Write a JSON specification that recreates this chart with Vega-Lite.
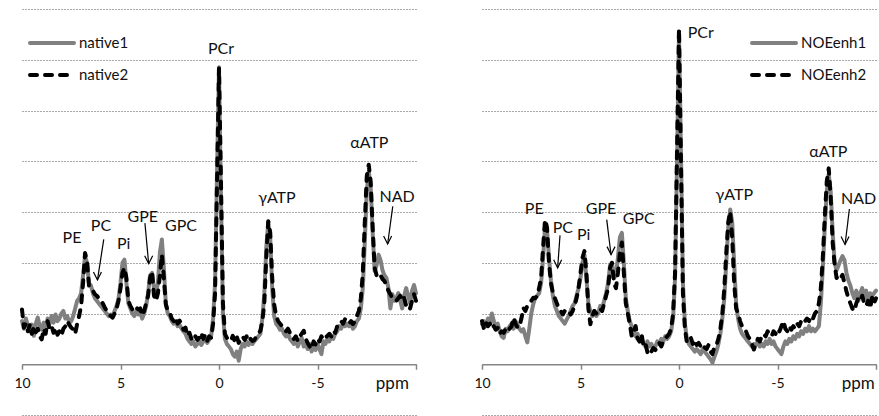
{
  "$schema": "https://vega.github.io/schema/vega-lite/v6.json",
  "autosize": {"type": "pad"},
  "padding": {"left": 13, "top": 9, "right": 0, "bottom": 1},
  "spacing": 66,
  "bounds": "flush",
  "config": {"view": {"stroke": null}, "font": "Lato"},
  "resolve": {"scale": {"color": "independent", "strokeDash": "independent"}},
  "datasets": {
    "spec": [
      {"p":10.0,"native1":8.5,"native2":10.8,"NOEenh1":7.9,"NOEenh2":8.5},
      {"p":9.9,"native1":7.0,"native2":7.2,"NOEenh1":8.5,"NOEenh2":7.0},
      {"p":9.8,"native1":9.0,"native2":8.0,"NOEenh1":7.5,"NOEenh2":8.2},
      {"p":9.7,"native1":7.5,"native2":6.5,"NOEenh1":9.0,"NOEenh2":7.5},
      {"p":9.6,"native1":6.5,"native2":7.8,"NOEenh1":8.0,"NOEenh2":8.0},
      {"p":9.5,"native1":7.8,"native2":6.0,"NOEenh1":10.0,"NOEenh2":7.0},
      {"p":9.4,"native1":5.6,"native2":7.5,"NOEenh1":8.5,"NOEenh2":7.5},
      {"p":9.3,"native1":8.0,"native2":6.3,"NOEenh1":7.0,"NOEenh2":6.8},
      {"p":9.2,"native1":9.2,"native2":7.0,"NOEenh1":8.0,"NOEenh2":7.2},
      {"p":9.1,"native1":7.5,"native2":5.5,"NOEenh1":6.5,"NOEenh2":6.0},
      {"p":9.0,"native1":6.8,"native2":4.9,"NOEenh1":5.5,"NOEenh2":6.5},
      {"p":8.9,"native1":8.2,"native2":7.0,"NOEenh1":5.2,"NOEenh2":6.2},
      {"p":8.8,"native1":7.0,"native2":6.0,"NOEenh1":7.0,"NOEenh2":7.0},
      {"p":8.7,"native1":9.0,"native2":8.5,"NOEenh1":6.5,"NOEenh2":6.5},
      {"p":8.6,"native1":8.0,"native2":7.0,"NOEenh1":7.5,"NOEenh2":7.0},
      {"p":8.5,"native1":9.5,"native2":7.6,"NOEenh1":8.0,"NOEenh2":7.5},
      {"p":8.4,"native1":8.2,"native2":6.2,"NOEenh1":7.0,"NOEenh2":9.2},
      {"p":8.3,"native1":9.8,"native2":7.2,"NOEenh1":8.5,"NOEenh2":8.0},
      {"p":8.2,"native1":8.5,"native2":5.8,"NOEenh1":7.8,"NOEenh2":7.2},
      {"p":8.1,"native1":9.0,"native2":6.5,"NOEenh1":7.0,"NOEenh2":7.5},
      {"p":8.0,"native1":10.0,"native2":5.6,"NOEenh1":6.5,"NOEenh2":9.0},
      {"p":7.9,"native1":10.5,"native2":7.0,"NOEenh1":6.9,"NOEenh2":11.1},
      {"p":7.8,"native1":9.0,"native2":7.5,"NOEenh1":5.5,"NOEenh2":10.5},
      {"p":7.7,"native1":9.5,"native2":8.5,"NOEenh1":4.3,"NOEenh2":11.5},
      {"p":7.6,"native1":8.2,"native2":7.8,"NOEenh1":7.0,"NOEenh2":12.0},
      {"p":7.5,"native1":8.5,"native2":7.2,"NOEenh1":10.0,"NOEenh2":12.5},
      {"p":7.4,"native1":9.5,"native2":6.9,"NOEenh1":11.8,"NOEenh2":13.1},
      {"p":7.3,"native1":11.0,"native2":6.0,"NOEenh1":13.1,"NOEenh2":13.0},
      {"p":7.2,"native1":12.5,"native2":8.0,"NOEenh1":13.5,"NOEenh2":13.5},
      {"p":7.1,"native1":13.0,"native2":9.5,"NOEenh1":14.0,"NOEenh2":15.0},
      {"p":7.0,"native1":14.0,"native2":11.5,"NOEenh1":16.0,"NOEenh2":17.0},
      {"p":6.9,"native1":17.5,"native2":16.0,"NOEenh1":21.0,"NOEenh2":23.0},
      {"p":6.8,"native1":21.3,"native2":21.9,"NOEenh1":27.0,"NOEenh2":28.5},
      {"p":6.7,"native1":20.0,"native2":20.5,"NOEenh1":26.5,"NOEenh2":27.0},
      {"p":6.6,"native1":16.0,"native2":15.5,"NOEenh1":21.0,"NOEenh2":20.0},
      {"p":6.5,"native1":15.5,"native2":14.7,"NOEenh1":16.5,"NOEenh2":16.0},
      {"p":6.4,"native1":14.0,"native2":14.5,"NOEenh1":13.5,"NOEenh2":14.0},
      {"p":6.3,"native1":13.0,"native2":13.8,"NOEenh1":11.5,"NOEenh2":13.0},
      {"p":6.2,"native1":12.5,"native2":13.5,"NOEenh1":10.5,"NOEenh2":12.0},
      {"p":6.1,"native1":12.0,"native2":13.0,"NOEenh1":9.5,"NOEenh2":11.0},
      {"p":6.0,"native1":11.5,"native2":12.8,"NOEenh1":9.0,"NOEenh2":10.5},
      {"p":5.9,"native1":11.0,"native2":12.0,"NOEenh1":8.5,"NOEenh2":9.8},
      {"p":5.8,"native1":10.5,"native2":11.2,"NOEenh1":8.0,"NOEenh2":10.5},
      {"p":5.7,"native1":10.0,"native2":10.5,"NOEenh1":8.8,"NOEenh2":10.2},
      {"p":5.6,"native1":9.5,"native2":10.2,"NOEenh1":9.5,"NOEenh2":10.5},
      {"p":5.5,"native1":9.8,"native2":9.5,"NOEenh1":10.5,"NOEenh2":9.8},
      {"p":5.4,"native1":9.5,"native2":9.2,"NOEenh1":11.5,"NOEenh2":10.5},
      {"p":5.3,"native1":10.5,"native2":10.0,"NOEenh1":12.0,"NOEenh2":11.5},
      {"p":5.2,"native1":11.5,"native2":11.0,"NOEenh1":13.5,"NOEenh2":13.0},
      {"p":5.1,"native1":13.0,"native2":12.5,"NOEenh1":15.0,"NOEenh2":15.0},
      {"p":5.0,"native1":16.0,"native2":15.0,"NOEenh1":17.0,"NOEenh2":18.0},
      {"p":4.9,"native1":20.0,"native2":18.0,"NOEenh1":20.0,"NOEenh2":21.0},
      {"p":4.8,"native1":20.6,"native2":19.0,"NOEenh1":21.5,"NOEenh2":22.3},
      {"p":4.7,"native1":16.0,"native2":17.0,"NOEenh1":17.0,"NOEenh2":18.0},
      {"p":4.6,"native1":12.0,"native2":12.5,"NOEenh1":12.0,"NOEenh2":11.0},
      {"p":4.5,"native1":11.0,"native2":11.5,"NOEenh1":10.5,"NOEenh2":7.9},
      {"p":4.4,"native1":10.0,"native2":10.8,"NOEenh1":9.5,"NOEenh2":9.5},
      {"p":4.3,"native1":9.5,"native2":10.5,"NOEenh1":10.5,"NOEenh2":10.5},
      {"p":4.2,"native1":10.5,"native2":11.2,"NOEenh1":9.5,"NOEenh2":10.0},
      {"p":4.1,"native1":9.8,"native2":10.8,"NOEenh1":10.0,"NOEenh2":10.8},
      {"p":4.0,"native1":10.2,"native2":11.0,"NOEenh1":11.5,"NOEenh2":11.0},
      {"p":3.9,"native1":9.0,"native2":9.6,"NOEenh1":11.0,"NOEenh2":10.5},
      {"p":3.8,"native1":10.0,"native2":10.5,"NOEenh1":12.5,"NOEenh2":12.0},
      {"p":3.7,"native1":11.5,"native2":12.0,"NOEenh1":14.0,"NOEenh2":13.5},
      {"p":3.6,"native1":14.0,"native2":13.5,"NOEenh1":16.0,"NOEenh2":15.0},
      {"p":3.5,"native1":17.5,"native2":17.0,"NOEenh1":19.5,"NOEenh2":19.0},
      {"p":3.4,"native1":18.0,"native2":18.3,"NOEenh1":20.0,"NOEenh2":20.0},
      {"p":3.3,"native1":15.0,"native2":13.5,"NOEenh1":17.0,"NOEenh2":16.0},
      {"p":3.2,"native1":14.0,"native2":12.5,"NOEenh1":17.5,"NOEenh2":15.0},
      {"p":3.1,"native1":16.0,"native2":14.0,"NOEenh1":21.0,"NOEenh2":18.0},
      {"p":3.0,"native1":22.0,"native2":17.5,"NOEenh1":25.0,"NOEenh2":22.0},
      {"p":2.9,"native1":24.6,"native2":21.6,"NOEenh1":25.9,"NOEenh2":24.0},
      {"p":2.8,"native1":19.0,"native2":17.0,"NOEenh1":20.0,"NOEenh2":18.0},
      {"p":2.7,"native1":12.0,"native2":11.8,"NOEenh1":13.0,"NOEenh2":12.0},
      {"p":2.6,"native1":10.0,"native2":10.5,"NOEenh1":10.5,"NOEenh2":10.0},
      {"p":2.5,"native1":9.5,"native2":10.2,"NOEenh1":8.5,"NOEenh2":8.0},
      {"p":2.4,"native1":8.5,"native2":9.0,"NOEenh1":7.5,"NOEenh2":5.5},
      {"p":2.3,"native1":8.0,"native2":8.5,"NOEenh1":6.5,"NOEenh2":6.5},
      {"p":2.2,"native1":8.5,"native2":9.2,"NOEenh1":5.5,"NOEenh2":7.5},
      {"p":2.1,"native1":7.5,"native2":8.0,"NOEenh1":6.0,"NOEenh2":5.0},
      {"p":2.0,"native1":7.8,"native2":8.6,"NOEenh1":4.5,"NOEenh2":4.5},
      {"p":1.9,"native1":7.0,"native2":7.9,"NOEenh1":5.0,"NOEenh2":6.0},
      {"p":1.8,"native1":6.5,"native2":6.8,"NOEenh1":4.0,"NOEenh2":3.5},
      {"p":1.7,"native1":6.0,"native2":7.2,"NOEenh1":3.5,"NOEenh2":4.0},
      {"p":1.6,"native1":5.0,"native2":5.6,"NOEenh1":4.5,"NOEenh2":2.3},
      {"p":1.5,"native1":4.5,"native2":6.2,"NOEenh1":3.5,"NOEenh2":3.0},
      {"p":1.4,"native1":4.0,"native2":5.0,"NOEenh1":4.0,"NOEenh2":2.5},
      {"p":1.3,"native1":4.5,"native2":4.6,"NOEenh1":3.0,"NOEenh2":3.2},
      {"p":1.2,"native1":3.5,"native2":5.5,"NOEenh1":3.5,"NOEenh2":2.8},
      {"p":1.1,"native1":4.0,"native2":4.8,"NOEenh1":4.5,"NOEenh2":3.5},
      {"p":1.0,"native1":4.5,"native2":5.2,"NOEenh1":4.0,"NOEenh2":4.2},
      {"p":0.9,"native1":3.8,"native2":6.2,"NOEenh1":5.0,"NOEenh2":3.5},
      {"p":0.8,"native1":4.5,"native2":5.0,"NOEenh1":4.5,"NOEenh2":4.5},
      {"p":0.7,"native1":5.0,"native2":5.8,"NOEenh1":5.5,"NOEenh2":5.2},
      {"p":0.6,"native1":4.2,"native2":4.6,"NOEenh1":5.0,"NOEenh2":5.5},
      {"p":0.5,"native1":4.8,"native2":5.5,"NOEenh1":5.5,"NOEenh2":6.0},
      {"p":0.4,"native1":5.5,"native2":5.2,"NOEenh1":6.5,"NOEenh2":7.0},
      {"p":0.3,"native1":9.0,"native2":8.0,"NOEenh1":9.0,"NOEenh2":10.0},
      {"p":0.2,"native1":16.0,"native2":14.0,"NOEenh1":17.0,"NOEenh2":18.0},
      {"p":0.1,"native1":38.0,"native2":36.0,"NOEenh1":40.0,"NOEenh2":42.0},
      {"p":0.0,"native1":58.5,"native2":58.3,"NOEenh1":65.5,"NOEenh2":66.1},
      {"p":-0.1,"native1":33.0,"native2":36.0,"NOEenh1":42.0,"NOEenh2":40.0},
      {"p":-0.2,"native1":10.0,"native2":12.0,"NOEenh1":16.0,"NOEenh2":14.0},
      {"p":-0.3,"native1":5.0,"native2":6.0,"NOEenh1":8.0,"NOEenh2":7.0},
      {"p":-0.4,"native1":4.0,"native2":5.2,"NOEenh1":5.0,"NOEenh2":4.3},
      {"p":-0.5,"native1":3.5,"native2":4.8,"NOEenh1":4.0,"NOEenh2":5.0},
      {"p":-0.6,"native1":3.0,"native2":4.6,"NOEenh1":3.5,"NOEenh2":5.2},
      {"p":-0.7,"native1":2.0,"native2":5.6,"NOEenh1":3.0,"NOEenh2":4.0},
      {"p":-0.8,"native1":1.5,"native2":4.5,"NOEenh1":2.5,"NOEenh2":4.8},
      {"p":-0.9,"native1":2.5,"native2":5.5,"NOEenh1":3.0,"NOEenh2":3.8},
      {"p":-1.0,"native1":0.7,"native2":4.2,"NOEenh1":2.5,"NOEenh2":4.2},
      {"p":-1.1,"native1":3.0,"native2":5.0,"NOEenh1":2.0,"NOEenh2":3.5},
      {"p":-1.2,"native1":4.0,"native2":5.5,"NOEenh1":3.0,"NOEenh2":4.0},
      {"p":-1.3,"native1":3.5,"native2":4.8,"NOEenh1":2.5,"NOEenh2":3.3},
      {"p":-1.4,"native1":4.5,"native2":5.5,"NOEenh1":2.0,"NOEenh2":3.0},
      {"p":-1.5,"native1":3.8,"native2":4.5,"NOEenh1":1.5,"NOEenh2":3.8},
      {"p":-1.6,"native1":4.5,"native2":5.0,"NOEenh1":1.0,"NOEenh2":2.5},
      {"p":-1.7,"native1":4.0,"native2":4.6,"NOEenh1":0.3,"NOEenh2":2.0},
      {"p":-1.8,"native1":4.6,"native2":4.8,"NOEenh1":1.5,"NOEenh2":3.5},
      {"p":-1.9,"native1":5.0,"native2":5.5,"NOEenh1":2.5,"NOEenh2":3.8},
      {"p":-2.0,"native1":5.5,"native2":6.0,"NOEenh1":4.0,"NOEenh2":5.0},
      {"p":-2.1,"native1":6.0,"native2":6.6,"NOEenh1":6.0,"NOEenh2":7.0},
      {"p":-2.2,"native1":9.0,"native2":8.5,"NOEenh1":9.0,"NOEenh2":10.0},
      {"p":-2.3,"native1":14.0,"native2":12.0,"NOEenh1":13.0,"NOEenh2":15.0},
      {"p":-2.4,"native1":23.0,"native2":21.0,"NOEenh1":20.0,"NOEenh2":22.0},
      {"p":-2.5,"native1":28.0,"native2":28.2,"NOEenh1":27.0,"NOEenh2":28.0},
      {"p":-2.6,"native1":25.0,"native2":26.0,"NOEenh1":30.5,"NOEenh2":30.1},
      {"p":-2.7,"native1":15.0,"native2":17.0,"NOEenh1":28.0,"NOEenh2":25.0},
      {"p":-2.8,"native1":9.5,"native2":11.8,"NOEenh1":20.0,"NOEenh2":16.0},
      {"p":-2.9,"native1":8.0,"native2":9.5,"NOEenh1":12.0,"NOEenh2":11.0},
      {"p":-3.0,"native1":7.5,"native2":8.5,"NOEenh1":9.0,"NOEenh2":10.0},
      {"p":-3.1,"native1":6.8,"native2":8.0,"NOEenh1":7.0,"NOEenh2":8.5},
      {"p":-3.2,"native1":7.0,"native2":7.5,"NOEenh1":6.0,"NOEenh2":7.5},
      {"p":-3.3,"native1":6.0,"native2":7.2,"NOEenh1":5.5,"NOEenh2":7.2},
      {"p":-3.4,"native1":5.5,"native2":6.5,"NOEenh1":5.0,"NOEenh2":6.5},
      {"p":-3.5,"native1":6.2,"native2":7.0,"NOEenh1":4.5,"NOEenh2":5.5},
      {"p":-3.6,"native1":5.0,"native2":6.2,"NOEenh1":4.0,"NOEenh2":5.0},
      {"p":-3.7,"native1":4.5,"native2":5.8,"NOEenh1":3.5,"NOEenh2":4.0},
      {"p":-3.8,"native1":4.0,"native2":5.0,"NOEenh1":4.0,"NOEenh2":2.9},
      {"p":-3.9,"native1":5.0,"native2":5.5,"NOEenh1":3.8,"NOEenh2":4.0},
      {"p":-4.0,"native1":3.5,"native2":4.6,"NOEenh1":4.5,"NOEenh2":5.0},
      {"p":-4.1,"native1":4.5,"native2":5.5,"NOEenh1":3.5,"NOEenh2":4.5},
      {"p":-4.2,"native1":5.2,"native2":6.0,"NOEenh1":4.0,"NOEenh2":5.5},
      {"p":-4.3,"native1":3.5,"native2":6.6,"NOEenh1":3.5,"NOEenh2":6.0},
      {"p":-4.4,"native1":4.0,"native2":5.0,"NOEenh1":4.5,"NOEenh2":5.5},
      {"p":-4.5,"native1":3.0,"native2":4.2,"NOEenh1":4.0,"NOEenh2":6.5},
      {"p":-4.6,"native1":4.0,"native2":3.5,"NOEenh1":5.0,"NOEenh2":6.0},
      {"p":-4.7,"native1":2.5,"native2":3.0,"NOEenh1":4.0,"NOEenh2":5.5},
      {"p":-4.8,"native1":3.5,"native2":4.5,"NOEenh1":4.5,"NOEenh2":6.5},
      {"p":-4.9,"native1":2.8,"native2":3.9,"NOEenh1":3.5,"NOEenh2":6.0},
      {"p":-5.0,"native1":4.0,"native2":5.0,"NOEenh1":3.0,"NOEenh2":7.0},
      {"p":-5.1,"native1":3.0,"native2":4.5,"NOEenh1":2.5,"NOEenh2":6.5},
      {"p":-5.2,"native1":2.0,"native2":5.5,"NOEenh1":2.0,"NOEenh2":7.5},
      {"p":-5.3,"native1":4.5,"native2":4.8,"NOEenh1":3.5,"NOEenh2":8.5},
      {"p":-5.4,"native1":4.0,"native2":5.2,"NOEenh1":4.5,"NOEenh2":7.0},
      {"p":-5.5,"native1":5.0,"native2":5.6,"NOEenh1":4.0,"NOEenh2":6.5},
      {"p":-5.6,"native1":4.5,"native2":6.0,"NOEenh1":5.0,"NOEenh2":7.5},
      {"p":-5.7,"native1":5.5,"native2":5.5,"NOEenh1":4.5,"NOEenh2":6.8},
      {"p":-5.8,"native1":5.0,"native2":6.6,"NOEenh1":5.5,"NOEenh2":7.5},
      {"p":-5.9,"native1":6.0,"native2":6.2,"NOEenh1":5.0,"NOEenh2":7.0},
      {"p":-6.0,"native1":6.5,"native2":7.5,"NOEenh1":6.0,"NOEenh2":8.0},
      {"p":-6.1,"native1":7.5,"native2":8.0,"NOEenh1":5.5,"NOEenh2":7.5},
      {"p":-6.2,"native1":7.0,"native2":8.5,"NOEenh1":6.5,"NOEenh2":8.5},
      {"p":-6.3,"native1":8.0,"native2":8.0,"NOEenh1":6.0,"NOEenh2":8.0},
      {"p":-6.4,"native1":7.5,"native2":8.9,"NOEenh1":7.0,"NOEenh2":8.5},
      {"p":-6.5,"native1":8.0,"native2":8.5,"NOEenh1":6.5,"NOEenh2":9.0},
      {"p":-6.6,"native1":7.5,"native2":8.0,"NOEenh1":7.5,"NOEenh2":8.5},
      {"p":-6.7,"native1":8.0,"native2":8.5,"NOEenh1":6.5,"NOEenh2":9.5},
      {"p":-6.8,"native1":7.0,"native2":7.9,"NOEenh1":7.0,"NOEenh2":9.0},
      {"p":-6.9,"native1":7.5,"native2":8.5,"NOEenh1":6.5,"NOEenh2":10.0},
      {"p":-7.0,"native1":8.5,"native2":9.5,"NOEenh1":7.0,"NOEenh2":10.5},
      {"p":-7.1,"native1":9.0,"native2":10.5,"NOEenh1":7.5,"NOEenh2":12.0},
      {"p":-7.2,"native1":11.0,"native2":13.0,"NOEenh1":12.0,"NOEenh2":15.0},
      {"p":-7.3,"native1":15.0,"native2":18.0,"NOEenh1":19.0,"NOEenh2":21.0},
      {"p":-7.4,"native1":24.0,"native2":28.0,"NOEenh1":27.0,"NOEenh2":29.0},
      {"p":-7.5,"native1":34.0,"native2":37.0,"NOEenh1":34.0,"NOEenh2":36.0},
      {"p":-7.6,"native1":38.0,"native2":39.3,"NOEenh1":37.5,"NOEenh2":38.6},
      {"p":-7.7,"native1":35.0,"native2":36.0,"NOEenh1":34.0,"NOEenh2":33.0},
      {"p":-7.8,"native1":26.0,"native2":27.0,"NOEenh1":26.0,"NOEenh2":24.0},
      {"p":-7.9,"native1":18.4,"native2":19.0,"NOEenh1":20.0,"NOEenh2":19.6},
      {"p":-8.0,"native1":19.5,"native2":17.5,"NOEenh1":18.5,"NOEenh2":17.0},
      {"p":-8.1,"native1":21.6,"native2":17.0,"NOEenh1":19.5,"NOEenh2":17.5},
      {"p":-8.2,"native1":20.5,"native2":17.5,"NOEenh1":20.5,"NOEenh2":17.0},
      {"p":-8.3,"native1":18.5,"native2":16.8,"NOEenh1":21.3,"NOEenh2":17.6},
      {"p":-8.4,"native1":17.5,"native2":16.4,"NOEenh1":20.5,"NOEenh2":16.0},
      {"p":-8.5,"native1":17.0,"native2":15.5,"NOEenh1":18.0,"NOEenh2":14.4},
      {"p":-8.6,"native1":15.0,"native2":14.5,"NOEenh1":16.5,"NOEenh2":13.0},
      {"p":-8.7,"native1":11.0,"native2":13.8,"NOEenh1":15.5,"NOEenh2":12.0},
      {"p":-8.8,"native1":13.8,"native2":13.0,"NOEenh1":14.0,"NOEenh2":11.0},
      {"p":-8.9,"native1":12.5,"native2":12.8,"NOEenh1":13.0,"NOEenh2":10.5},
      {"p":-9.0,"native1":13.0,"native2":12.5,"NOEenh1":14.5,"NOEenh2":12.0},
      {"p":-9.1,"native1":14.0,"native2":13.0,"NOEenh1":12.5,"NOEenh2":13.0},
      {"p":-9.2,"native1":12.5,"native2":13.5,"NOEenh1":14.0,"NOEenh2":12.5},
      {"p":-9.3,"native1":11.0,"native2":12.5,"NOEenh1":15.0,"NOEenh2":13.5},
      {"p":-9.4,"native1":13.5,"native2":13.1,"NOEenh1":13.0,"NOEenh2":12.0},
      {"p":-9.5,"native1":15.0,"native2":11.5,"NOEenh1":14.5,"NOEenh2":11.5},
      {"p":-9.6,"native1":13.5,"native2":11.8,"NOEenh1":12.5,"NOEenh2":12.5},
      {"p":-9.7,"native1":12.0,"native2":11.0,"NOEenh1":14.0,"NOEenh2":11.0},
      {"p":-9.8,"native1":14.5,"native2":12.5,"NOEenh1":13.5,"NOEenh2":13.1},
      {"p":-9.9,"native1":15.6,"native2":13.8,"NOEenh1":14.0,"NOEenh2":12.0},
      {"p":-10.0,"native1":14.0,"native2":12.5,"NOEenh1":14.5,"NOEenh2":13.0}
    ],
    "labL": [
      {"p":7.46,"v":24.9,"t":"PE"},{"p":5.99,"v":27.2,"t":"PC"},{"p":4.84,"v":23.6,"t":"Pi"},
      {"p":3.87,"v":29.0,"t":"GPE"},{"p":1.93,"v":27.2,"t":"GPC"},{"p":-0.1,"v":62.2,"t":"PCr"},
      {"p":-2.94,"v":32.8,"t":"γATP"},{"p":-7.63,"v":43.6,"t":"αATP"},{"p":-9.04,"v":32.9,"t":"NAD"},
      {"p":-8.8,"v":-3.9,"t":"ppm"}
    ],
    "labR": [
      {"p":7.35,"v":30.6,"t":"PE"},{"p":5.9,"v":26.9,"t":"PC"},{"p":4.84,"v":25.5,"t":"Pi"},
      {"p":3.96,"v":30.6,"t":"GPE"},{"p":2.05,"v":28.7,"t":"GPC"},{"p":-1.1,"v":65.2,"t":"PCr"},
      {"p":-2.81,"v":33.4,"t":"γATP"},{"p":-7.58,"v":41.9,"t":"αATP"},{"p":-9.12,"v":32.6,"t":"NAD"},
      {"p":-9.1,"v":-3.9,"t":"ppm"}
    ],
    "arrL": [
      {"p":5.85,"v":24.6,"p2":6.17,"v2":16.6},
      {"p":3.76,"v":27.8,"p2":3.57,"v2":19.8},
      {"p":-8.82,"v":31.1,"p2":-8.56,"v2":23.7}
    ],
    "arrR": [
      {"p":6.04,"v":25.4,"p2":6.16,"v2":19.0},
      {"p":3.67,"v":28.5,"p2":3.45,"v2":21.6},
      {"p":-8.65,"v":30.6,"p2":-8.43,"v2":23.6}
    ]
  },
  "hconcat": [
    {
      "width": 394, "height": 406,
      "layer": [
        {
          "data": {"name": "spec"},
          "transform": [{"fold": ["native1", "native2"], "as": ["series", "v"]}],
          "mark": {"type": "line", "strokeWidth": 4, "strokeCap": "round", "strokeJoin": "round"},
          "encoding": {
            "x": {"field": "p", "type": "quantitative", "scale": {"domain": [-10, 10], "reverse": true, "nice": false},
              "axis": {"values": [10, 5, 0, -5, -10], "title": null, "grid": false, "offset": -50.75, "domainColor": "#868686", "domainWidth": 1.5, "tickColor": "#868686", "tickWidth": 1.5, "tickSize": 5, "labelFontSize": 14, "labelFont": "Lato", "labelColor": "#111", "labelPadding": 7, "labelFlush": false, "labelOverlap": false,
                "labelExpr": "datum.value == -10 ? '' : (datum.value < 0 ? '-' + abs(datum.value) : '' + datum.value)"}},
            "y": {"field": "v", "type": "quantitative", "scale": {"domain": [-10, 70], "nice": false, "zero": false},
              "axis": {"values": [-10, 0, 10, 20, 30, 40, 50, 60, 70], "title": null, "domain": false, "ticks": false, "labels": false, "grid": true, "gridDash": [1, 2], "gridColor": "#555", "gridWidth": 1}},
            "color": {"field": "series", "type": "nominal", "scale": {"domain": ["native1", "native2"], "range": ["#808080", "#000000"]},
              "legend": {"title": null, "orient": "none", "legendX": 6, "legendY": 10, "symbolType": "stroke", "symbolSize": 1936, "symbolStrokeWidth": 4, "labelFontSize": 15, "labelFont": "Lato", "labelColor": "#111", "labelOffset": 3, "rowPadding": -18, "padding": 0,
                "encode": {"symbols": {"update": {"strokeCap": {"value": "round"}}}}}},
            "strokeDash": {"field": "series", "type": "nominal", "scale": {"domain": ["native1", "native2"], "range": [[1, 0], [7, 8]]},
              "legend": {"title": null, "orient": "none", "legendX": 6, "legendY": 10, "symbolType": "stroke", "symbolSize": 1936, "symbolStrokeWidth": 4, "labelFontSize": 15, "labelFont": "Lato", "labelColor": "#111", "labelOffset": 3, "rowPadding": -18, "padding": 0,
                "encode": {"symbols": {"update": {"strokeCap": {"value": "round"}}}}}}
          }
        },
        {
          "data": {"name": "labL"},
          "transform": [{"filter": "datum.t != 'ppm'"}],
          "mark": {"type": "text", "fontSize": 16, "font": "Lato", "color": "#111", "baseline": "middle", "align": "center"},
          "encoding": {"x": {"field": "p", "type": "quantitative"}, "y": {"field": "v", "type": "quantitative"}, "text": {"field": "t"}}
        },
        {
          "data": {"name": "labL"},
          "transform": [{"filter": "datum.t == 'ppm'"}],
          "mark": {"type": "text", "fontSize": 17, "font": "Lato", "color": "#111", "baseline": "middle", "align": "center"},
          "encoding": {"x": {"field": "p", "type": "quantitative"}, "y": {"field": "v", "type": "quantitative"}, "text": {"field": "t"}}
        },
        {
          "data": {"name": "arrL"},
          "mark": {"type": "rule", "strokeWidth": 1.2, "color": "#000"},
          "encoding": {"x": {"field": "p", "type": "quantitative"}, "y": {"field": "v", "type": "quantitative"}, "x2": {"field": "p2"}, "y2": {"field": "v2"}}
        },
        {
          "data": {"name": "arrL"},
          "mark": {"type": "point", "shape": "M-0.5,-1L0,0L0.5,-1", "size": 256, "filled": false, "stroke": "#000", "strokeWidth": 1.2, "opacity": 1},
          "encoding": {"x": {"field": "p2", "type": "quantitative"}, "y": {"field": "v2", "type": "quantitative"}}
        }
      ]
    },
    {
      "width": 394, "height": 406,
      "layer": [
        {
          "data": {"name": "spec"},
          "transform": [{"fold": ["NOEenh1", "NOEenh2"], "as": ["series", "v"]}],
          "mark": {"type": "line", "strokeWidth": 4, "strokeCap": "round", "strokeJoin": "round"},
          "encoding": {
            "x": {"field": "p", "type": "quantitative", "scale": {"domain": [-10, 10], "reverse": true, "nice": false},
              "axis": {"values": [10, 5, 0, -5, -10], "title": null, "grid": false, "offset": -50.75, "domainColor": "#868686", "domainWidth": 1.5, "tickColor": "#868686", "tickWidth": 1.5, "tickSize": 5, "labelFontSize": 14, "labelFont": "Lato", "labelColor": "#111", "labelPadding": 7, "labelFlush": false, "labelOverlap": false,
                "labelExpr": "datum.value == -10 ? '' : (datum.value < 0 ? '-' + abs(datum.value) : '' + datum.value)"}},
            "y": {"field": "v", "type": "quantitative", "scale": {"domain": [-10, 70], "nice": false, "zero": false},
              "axis": {"values": [-10, 0, 10, 20, 30, 40, 50, 60, 70], "title": null, "domain": false, "ticks": false, "labels": false, "grid": true, "gridDash": [1, 2], "gridColor": "#555", "gridWidth": 1}},
            "color": {"field": "series", "type": "nominal", "scale": {"domain": ["NOEenh1", "NOEenh2"], "range": ["#808080", "#000000"]},
              "legend": {"title": null, "orient": "none", "legendX": 268, "legendY": 10, "symbolType": "stroke", "symbolSize": 1936, "symbolStrokeWidth": 4, "labelFontSize": 15, "labelFont": "Lato", "labelColor": "#111", "labelOffset": 3, "rowPadding": -18, "padding": 0,
                "encode": {"symbols": {"update": {"strokeCap": {"value": "round"}}}}}},
            "strokeDash": {"field": "series", "type": "nominal", "scale": {"domain": ["NOEenh1", "NOEenh2"], "range": [[1, 0], [7, 8]]},
              "legend": {"title": null, "orient": "none", "legendX": 268, "legendY": 10, "symbolType": "stroke", "symbolSize": 1936, "symbolStrokeWidth": 4, "labelFontSize": 15, "labelFont": "Lato", "labelColor": "#111", "labelOffset": 3, "rowPadding": -18, "padding": 0,
                "encode": {"symbols": {"update": {"strokeCap": {"value": "round"}}}}}}
          }
        },
        {
          "data": {"name": "labR"},
          "transform": [{"filter": "datum.t != 'ppm'"}],
          "mark": {"type": "text", "fontSize": 16, "font": "Lato", "color": "#111", "baseline": "middle", "align": "center"},
          "encoding": {"x": {"field": "p", "type": "quantitative"}, "y": {"field": "v", "type": "quantitative"}, "text": {"field": "t"}}
        },
        {
          "data": {"name": "labR"},
          "transform": [{"filter": "datum.t == 'ppm'"}],
          "mark": {"type": "text", "fontSize": 17, "font": "Lato", "color": "#111", "baseline": "middle", "align": "center"},
          "encoding": {"x": {"field": "p", "type": "quantitative"}, "y": {"field": "v", "type": "quantitative"}, "text": {"field": "t"}}
        },
        {
          "data": {"name": "arrR"},
          "mark": {"type": "rule", "strokeWidth": 1.2, "color": "#000"},
          "encoding": {"x": {"field": "p", "type": "quantitative"}, "y": {"field": "v", "type": "quantitative"}, "x2": {"field": "p2"}, "y2": {"field": "v2"}}
        },
        {
          "data": {"name": "arrR"},
          "mark": {"type": "point", "shape": "M-0.5,-1L0,0L0.5,-1", "size": 256, "filled": false, "stroke": "#000", "strokeWidth": 1.2, "opacity": 1},
          "encoding": {"x": {"field": "p2", "type": "quantitative"}, "y": {"field": "v2", "type": "quantitative"}}
        }
      ]
    }
  ]
}
